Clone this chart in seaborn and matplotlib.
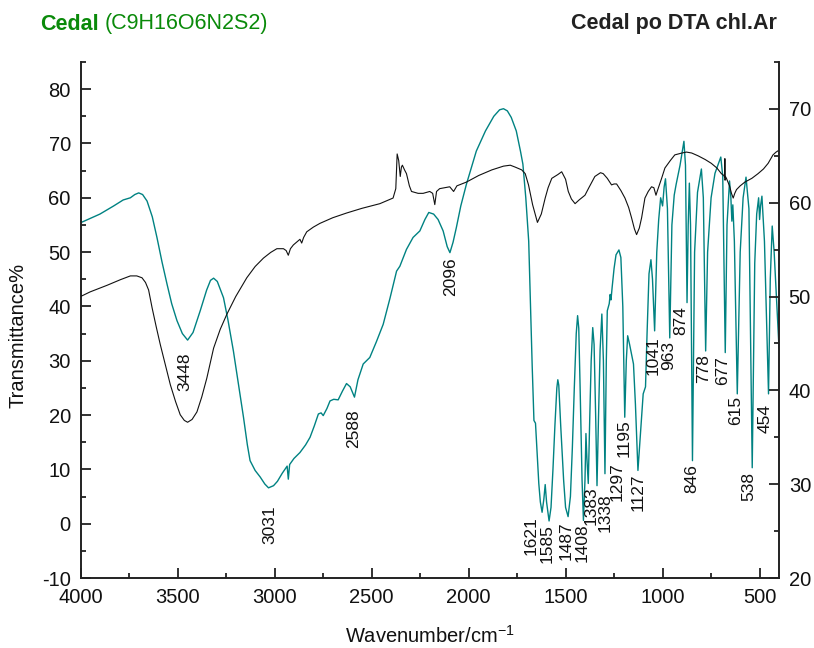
import matplotlib
matplotlib.use("Agg")
import matplotlib.pyplot as plt
import pandas as pd
import seaborn as sns
from matplotlib.ticker import MultipleLocator

# ---------------- data ----------------
# Cedal (C9H16O6N2S2) -- teal, left axis (Transmittance %)
cedal_wn = [4000, 3900, 3829, 3780, 3743, 3720, 3700, 3680, 3657, 3630, 3606, 3580,
            3554, 3530, 3503, 3475, 3448, 3420, 3383, 3350, 3330, 3314, 3295, 3263,
            3240, 3212, 3185, 3160, 3140, 3126, 3100, 3074, 3050, 3031, 3005, 2985,
            2960, 2935, 2929, 2922, 2900, 2869, 2840, 2817, 2795, 2774, 2760, 2749,
            2730, 2714, 2695, 2672, 2650, 2629, 2610, 2588, 2570, 2543, 2509, 2475,
            2440, 2405, 2371, 2354, 2320, 2286, 2251, 2225, 2205, 2180, 2157, 2131,
            2110, 2096, 2080, 2063, 2040, 2011, 1985, 1960, 1913, 1870, 1840, 1820,
            1800, 1780, 1754, 1732, 1720, 1705, 1690, 1672, 1663, 1655, 1645, 1638,
            1630, 1621, 1612, 1605, 1598, 1585, 1575, 1565, 1555, 1545, 1540, 1535,
            1525, 1510, 1500, 1487, 1475, 1465, 1455, 1445, 1438, 1432, 1425, 1415,
            1408, 1400, 1395, 1390, 1383, 1375, 1368, 1360, 1353, 1345, 1338, 1330,
            1322, 1313, 1305, 1297, 1290, 1285, 1275, 1270, 1266, 1260, 1250, 1240,
            1225, 1215, 1205, 1195, 1187, 1180, 1170, 1150, 1140, 1127, 1115, 1100,
            1088, 1080, 1070, 1060, 1052, 1041, 1030, 1020, 1010, 1000, 992, 985,
            975, 963, 952, 940, 930, 910, 890, 882, 874, 868, 862, 856, 846, 835,
            820, 800, 790, 778, 768, 750, 730, 700, 690, 677, 668, 655, 648, 643,
            638, 630, 615, 600, 585, 570, 555, 538, 525, 515, 505, 500, 495, 488,
            475, 454, 445, 435, 425, 400]
cedal_t = [55.4, 57.0, 58.5, 59.6, 60.0, 60.6, 60.9, 60.6, 59.4, 56.5, 52.7, 48.2,
           44.1, 40.5, 37.4, 35.0, 33.8, 35.2, 39.2, 43.0, 44.8, 45.2, 44.6, 41.6,
           37.5, 31.8, 25.5, 19.6, 14.5, 11.6, 9.8, 8.6, 7.3, 6.6, 7.0, 7.8,
           9.3, 10.6, 8.2, 10.9, 12.0, 13.1, 14.5, 15.9, 18.0, 20.2, 20.4, 19.9,
           21.2, 22.6, 22.9, 22.8, 24.4, 25.8, 25.2, 23.3, 26.5, 29.4, 30.6, 33.5,
           36.7, 41.5, 46.5, 47.4, 50.5, 52.7, 53.9, 56.0, 57.3, 57.0, 56.0, 53.9,
           51.0, 49.9, 51.8, 54.5, 58.5, 62.5, 65.6, 68.6, 72.3, 75.0, 76.2, 76.4,
           76.0, 74.8, 72.3, 68.5, 66.2, 60.0, 52.0, 29.0, 19.0, 18.5, 12.0, 7.4,
           4.0, 2.1, 4.5, 7.2, 4.0, 0.5, 3.0, 10.0, 18.0, 25.0, 26.5, 25.5,
           18.0, 8.0, 3.0, 1.3, 5.0, 14.0, 25.0, 35.0, 38.3, 36.0, 25.0, 8.0,
           0.6, 8.0, 16.6, 12.0, 7.4, 20.0, 30.0, 36.1, 33.0, 20.0, 7.0, 20.0,
           32.0, 38.6, 30.0, 9.2, 30.0, 39.2, 40.5, 42.2, 41.2, 43.5, 47.0, 49.5,
           50.4, 49.0, 40.0, 19.6, 30.0, 34.6, 33.0, 29.4, 22.0, 9.8, 16.0, 23.9,
           25.2, 35.0, 46.0, 48.6, 45.0, 35.5, 50.0, 56.0, 60.0, 58.5, 62.0, 63.5,
           58.0, 34.2, 55.0, 60.5, 62.5, 66.0, 70.4, 66.0, 40.7, 55.0, 62.7, 55.0,
           11.6, 50.0, 61.0, 65.3, 60.0, 31.8, 50.0, 60.0, 64.5, 67.5, 64.0, 31.5,
           55.0, 63.1, 60.0, 55.7, 58.7, 52.0, 23.9, 50.0, 60.0, 63.8, 58.0, 10.3,
           48.0, 57.0, 60.0, 56.0, 58.5, 60.3, 52.0, 23.9, 45.0, 54.8, 50.0, 32.4]

# Cedal po DTA chl.Ar -- black, right axis
dta_wn = [4000, 3950, 3863, 3794, 3743, 3710, 3683, 3665, 3649, 3631, 3610, 3589,
          3560, 3537, 3510, 3486, 3465, 3448, 3425, 3400, 3375, 3349, 3314, 3280,
          3246, 3200, 3143, 3100, 3057, 3020, 2988, 2954, 2940, 2929, 2918, 2903,
          2869, 2860, 2850, 2834, 2800, 2766, 2700, 2629, 2550, 2457, 2389, 2375,
          2368, 2360, 2352, 2346, 2341, 2330, 2320, 2305, 2294, 2260, 2234, 2200,
          2185, 2174, 2165, 2149, 2097, 2077, 2060, 2011, 1948, 1880, 1820, 1785,
          1760, 1726, 1708, 1691, 1670, 1645, 1625, 1605, 1590, 1571, 1540, 1520,
          1500, 1486, 1470, 1451, 1430, 1400, 1380, 1349, 1320, 1306, 1285, 1263,
          1250, 1237, 1215, 1194, 1175, 1160, 1145, 1134, 1120, 1108, 1091, 1074,
          1057, 1045, 1034, 1028, 1018, 1005, 988, 960, 937, 900, 877, 850,
          817, 780, 749, 720, 697, 684, 680, 679, 678, 676, 671, 655,
          645, 636, 628, 619, 600, 576, 540, 508, 480, 456, 431, 415, 400]
dta_t = [50.0, 50.5, 51.2, 51.8, 52.2, 52.2, 52.0, 51.5, 50.7, 48.8, 46.8, 44.9,
         42.5, 40.6, 38.8, 37.4, 36.8, 36.6, 36.9, 37.7, 39.3, 41.3, 44.5, 46.5,
         48.1, 50.0, 52.0, 53.2, 54.1, 54.7, 55.1, 55.1, 54.9, 54.4, 55.1, 55.5,
         56.1, 55.7, 56.3, 56.9, 57.4, 57.8, 58.4, 58.9, 59.4, 59.9, 60.5, 61.5,
         65.2, 64.5, 62.8, 63.8, 64.0, 63.5, 63.1, 61.8, 61.2, 61.0, 61.0, 61.2,
         61.0, 59.8, 61.2, 61.5, 61.7, 61.2, 61.8, 62.2, 62.9, 63.5, 63.9, 64.0,
         63.8, 63.5, 63.1, 61.9, 59.8, 57.9, 58.8, 60.5, 61.6, 62.6, 63.0, 63.3,
         62.5, 61.2, 60.4, 59.9, 60.3, 60.8, 61.6, 62.8, 63.2, 63.1, 62.6, 61.9,
         62.0, 62.0, 61.3, 60.5, 59.5, 58.4, 57.2, 56.6, 57.3, 58.4, 60.5, 61.2,
         61.7, 61.6, 60.8, 61.2, 61.8, 62.6, 63.7, 64.5, 65.1, 65.3, 65.4, 65.3,
         65.0, 64.6, 64.2, 63.7, 63.1, 62.9, 62.7, 64.7, 62.4, 62.8, 62.6, 61.8,
         61.0, 60.5, 61.0, 61.4, 61.8, 62.2, 62.6, 63.1, 63.6, 64.2, 65.1, 65.4, 65.6]

# band labels
peak_labels = ["3448", "3031", "2588", "2096", "1621", "1585", "1487", "1408",
               "1383", "1338", "1297", "1195", "1127", "1041", "963", "874",
               "846", "778", "677", "615", "538", "454"]

# ---------------- layout for labels (x in cm-1, top of text in left-axis units) ----
label_x = [3461, 3023, 2591, 2092, 1677, 1594, 1498, 1417, 1368, 1297, 1235, 1199,
           1126, 1049, 967, 904, 848, 791, 689, 626, 557, 474]
label_top = [31.5, 3.3, 21.1, 49.1, 1.3, -0.1, 0.4, 0.0, 6.8, 5.6, 11.4, 19.2,
             9.2, 34.6, 33.7, 40.1, 10.9, 31.3, 30.9, 23.6, 9.6, 22.1]

# ---------------- style ----------------
sns.set_theme(style="white")
plt.rcParams["font.family"] = ["Liberation Sans", "DejaVu Sans"]
plt.rcParams["axes.unicode_minus"] = False
plt.rcParams["mathtext.fontset"] = "custom"
plt.rcParams["mathtext.rm"] = "Liberation Sans"
plt.rcParams["mathtext.it"] = "Liberation Sans"
plt.rcParams["mathtext.default"] = "regular"

W, H = 814, 648
fig = plt.figure(figsize=(W / 100, H / 100), dpi=100)
L, R, T, B = 80.5, 779.0, 62.0, 578.0
ax = fig.add_axes([L / W, 1 - B / H, (R - L) / W, (B - T) / H])
ax2 = ax.twinx()

teal = "#008282"
dark = "#222222"

df_c = pd.DataFrame({"wn": cedal_wn, "T": cedal_t})
df_d = pd.DataFrame({"wn": dta_wn, "T": dta_t})

sns.lineplot(data=df_c, x="wn", y="T", ax=ax, color=teal, lw=1.0,
             estimator=None, sort=False)
sns.lineplot(data=df_d, x="wn", y="T", ax=ax2, color="#111111", lw=0.8,
             estimator=None, sort=False)

ax.set_xlim(4000, 400)
ax.set_ylim(-10, 85)
ax2.set_ylim(20, 75)
ax.set_xlabel("")
ax.set_ylabel("")
ax2.set_ylabel("")

ax.xaxis.set_major_locator(MultipleLocator(500))
ax.xaxis.set_minor_locator(MultipleLocator(250))
ax.yaxis.set_major_locator(MultipleLocator(10))
ax.yaxis.set_minor_locator(MultipleLocator(5))
ax2.yaxis.set_major_locator(MultipleLocator(10))
ax2.yaxis.set_minor_locator(MultipleLocator(5))

for a in (ax, ax2):
    a.spines["top"].set_visible(False)
    for s in ("left", "right", "bottom"):
        a.spines[s].set_linewidth(1.4)
        a.spines[s].set_color(dark)
ax.spines["right"].set_visible(False)
ax2.spines["left"].set_visible(False)
ax2.spines["bottom"].set_visible(False)

ax.tick_params(axis="x", which="both", direction="in", bottom=True, top=False,
               color=dark, width=1.3, labelsize=14.5, pad=7, labelcolor="#111111")
ax.tick_params(axis="y", which="both", direction="in", left=True, right=False,
               color=dark, width=1.3, labelsize=14.5, pad=7, labelcolor="#111111")
ax2.tick_params(axis="y", which="both", direction="in", right=True, left=False,
                color=dark, width=1.3, labelsize=14.5, pad=7, labelcolor="#111111")
for a in (ax, ax2):
    a.tick_params(which="major", length=7)
    a.tick_params(which="minor", length=3.5)
ax.set_xticks([4000, 3500, 3000, 2500, 2000, 1500, 1000, 500])

# band labels
for txt, xw, yt in zip(peak_labels, label_x, label_top):
    ax.text(xw, yt, txt, rotation=90, ha="center", va="top",
            fontsize=12.5, color="#111111")

# axis titles
fig.text(429.75 / W, 1 - 636 / H, "Wavenumber/cm$^{-1}$", ha="center",
         va="center", fontsize=14.5, color="#111111")
fig.text(18 / W, 1 - 335 / H, "Transmittance%", ha="center", va="center",
         rotation=90, fontsize=14.5, color="#111111")

# titles
t1 = fig.text(40 / W, 1 - 29.5 / H, "Cedal", ha="left", va="baseline",
              fontsize=15.5, fontweight="bold", color="#0a8a0a")
ax.annotate("(C9H16O6N2S2)", xy=(1, 0), xycoords=t1, xytext=(4, 0),
            textcoords="offset points", ha="left", va="bottom",
            fontsize=15.5, color="#0a8a0a", annotation_clip=False)
fig.text(777 / W, 1 - 29.5 / H, "Cedal po DTA chl.Ar", ha="right",
         va="baseline", fontsize=15.5, fontweight="bold", color=dark)

fig.savefig("out.png", dpi=100, facecolor="white")
